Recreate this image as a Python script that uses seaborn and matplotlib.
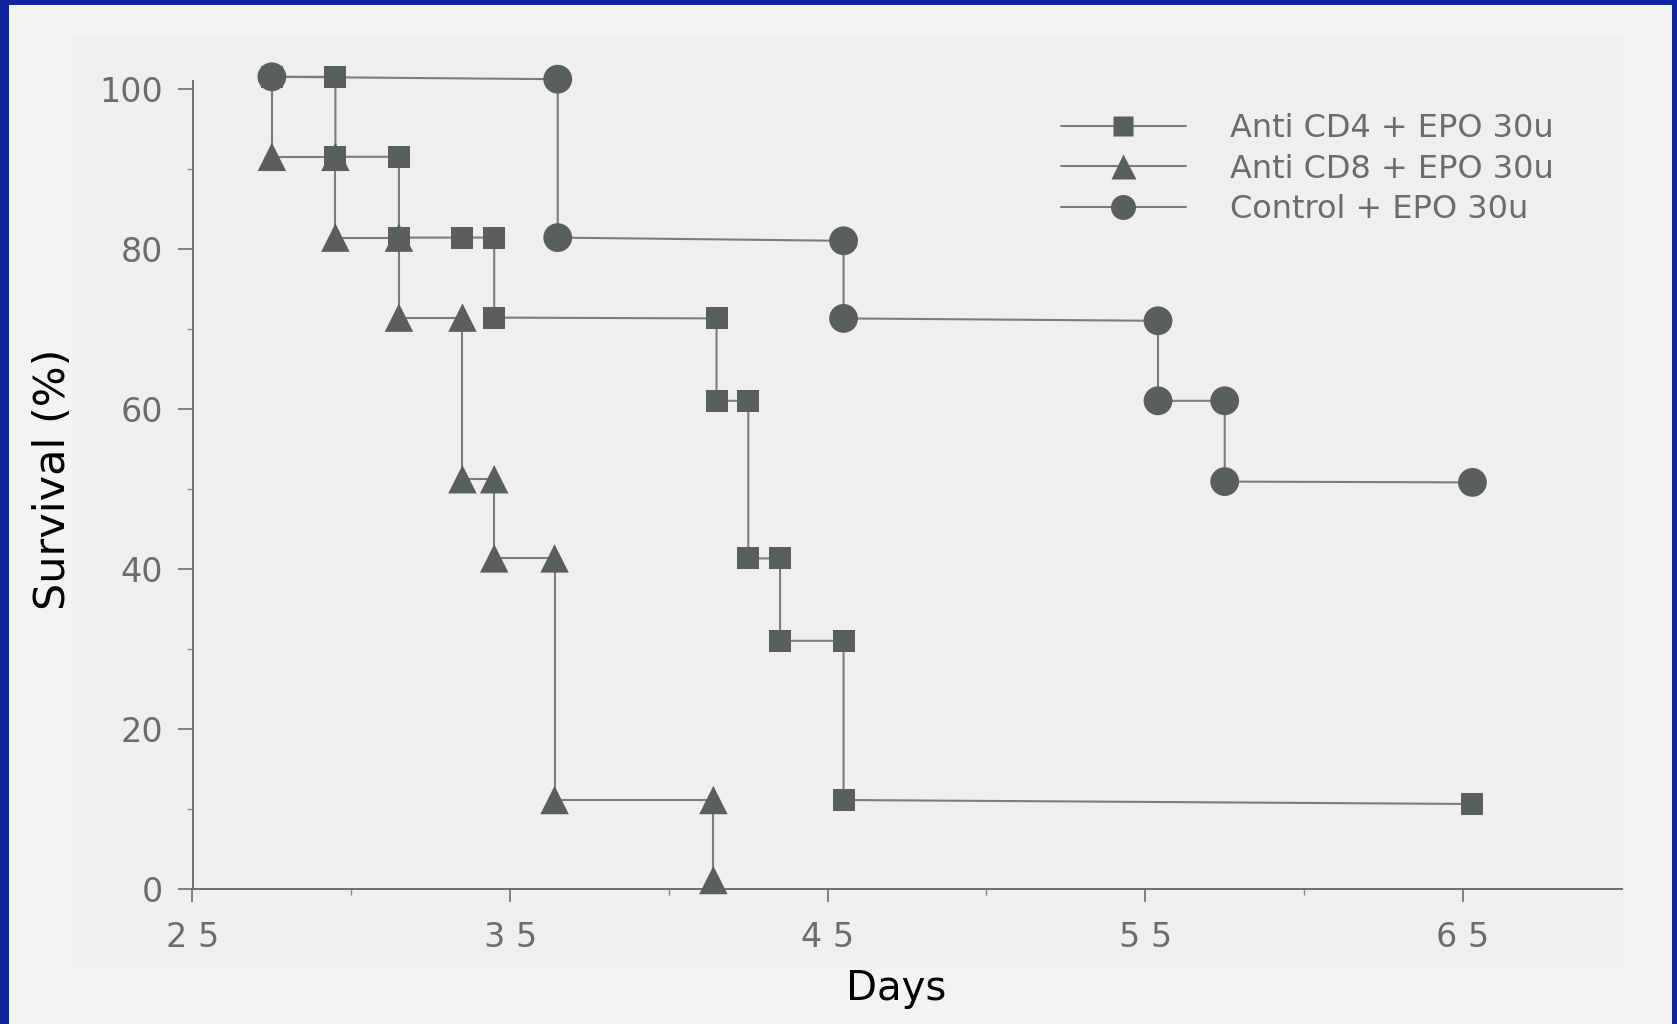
import numpy as np
import pandas as pd
import matplotlib
matplotlib.use("Agg")
import matplotlib.pyplot as plt
from matplotlib.patches import Rectangle
from matplotlib.lines import Line2D
import seaborn as sns

# ---- data ----
days_cd4 = [27.5, 29.5, 29.5, 31.5, 31.5, 33.5, 34.5, 34.5, 41.5, 41.5, 42.5, 42.5, 43.5, 43.5, 45.5, 45.5, 65.3]
surv_cd4 = [101.5, 101.5, 91.5, 91.5, 81.4, 81.4, 81.4, 71.4, 71.3, 61.0, 61.0, 41.3, 41.3, 31.0, 31.0, 11.1, 10.6]

days_cd8 = [27.5, 27.5, 29.5, 29.5, 31.5, 31.5, 33.5, 33.5, 34.5, 34.5, 36.4, 36.4, 41.4, 41.4]
surv_cd8 = [101.5, 91.5, 91.5, 81.4, 81.4, 71.4, 71.4, 51.2, 51.2, 41.3, 41.3, 11.1, 11.1, 1.1]
cd8_marked = [False, True, True, True, True, True, True, True, True, True, True, True, True, True]

days_ctrl = [27.5, 36.5, 36.5, 45.5, 45.5, 55.4, 55.4, 57.5, 57.5, 65.3]
surv_ctrl = [101.5, 101.2, 81.4, 81.0, 71.3, 71.0, 61.0, 61.0, 50.9, 50.8]

labels = ["Anti CD4 + EPO 30u", "Anti CD8 + EPO 30u", "Control + EPO 30u"]
x_ticks = [25, 35, 45, 55, 65]
x_ticklabels = ["2 5", "3 5", "4 5", "5 5", "6 5"]
y_ticks = [0, 20, 40, 60, 80, 100]
y_ticklabels = ["0", "20", "40", "60", "80", "100"]
x_label = "Days"
y_label = "Survival (%)"

# ---- style ----
sns.set_style("ticks")
plt.rcParams["font.family"] = ["DejaVu Sans"]

BLUE = "#0b239e"
LINE_C = "#7c7c7c"
MARK_C = "#5a5f5e"
TEXT_G = "#6c6c6c"

W, H = 1677, 1024
fig = plt.figure(figsize=(W / 100, H / 100), dpi=100)
fig.patch.set_facecolor(BLUE)
fig.add_artist(Rectangle((9 / W, 0), (W - 14) / W, (H - 5) / H, transform=fig.transFigure,
                         facecolor="#f3f3f3", edgecolor="none", zorder=0))
fig.add_artist(Rectangle((72 / W, (H - 967) / H), (1624 - 72) / W, (967 - 37) / H,
                         transform=fig.transFigure, facecolor="#efefef", edgecolor="none", zorder=0))

ax = fig.add_axes([192.5 / W, (H - 888.8) / H, 1429.2 / W, 808.0 / H])
ax.patch.set_alpha(0)

df_cd4 = pd.DataFrame({"day": days_cd4, "surv": surv_cd4, "group": labels[0], "mark": True})
df_cd8 = pd.DataFrame({"day": days_cd8, "surv": surv_cd8, "group": labels[1], "mark": cd8_marked})
df_ctrl = pd.DataFrame({"day": days_ctrl, "surv": surv_ctrl, "group": labels[2], "mark": True})

series = [(df_cd4, "s", 250), (df_cd8, "^", 420), (df_ctrl, "o", 430)]
for d, m, s in series:
    sns.lineplot(data=d, x="day", y="surv", sort=False, estimator=None, color=LINE_C,
                 lw=1.5, ax=ax, legend=False, clip_on=False, zorder=2)
for d, m, s in series:
    sns.scatterplot(data=d[d["mark"]], x="day", y="surv", marker=m, s=s, color=MARK_C,
                    edgecolor="none", linewidth=0, ax=ax, legend=False, clip_on=False, zorder=3)

ax.set_xlim(25, 70)
ax.set_ylim(0, 101)
ax.set_xticks(x_ticks)
ax.set_xticklabels(x_ticklabels)
ax.set_xticks([30, 40, 50, 60], minor=True)
ax.set_yticks(y_ticks)
ax.set_yticklabels(y_ticklabels)
ax.set_yticks([10, 30, 50, 70, 90], minor=True)

for side in ["top", "right"]:
    ax.spines[side].set_visible(False)
for side in ["left", "bottom"]:
    ax.spines[side].set_color("#6e6e6e")
    ax.spines[side].set_linewidth(1.4)

ax.tick_params(axis="y", which="major", length=11, width=1.2, color="#6e6e6e",
               labelsize=24, labelcolor=TEXT_G, pad=10)
ax.tick_params(axis="y", which="minor", length=4, width=1.0, color="#8a8a8a")
ax.tick_params(axis="x", which="major", length=9, width=1.2, color="#6e6e6e",
               labelsize=24, labelcolor=TEXT_G, pad=14)
ax.tick_params(axis="x", which="minor", length=4, width=1.0, color="#8a8a8a")

ax.set_xlabel("")
ax.set_ylabel("")
fig.text(896 / W, 1 - 989 / H, x_label, ha="center", va="center", fontsize=29, color="black")
fig.text(53 / W, 1 - 479 / H, y_label, ha="center", va="center", rotation=90,
         fontsize=31, color="black")

handles = [
    Line2D([], [], color=LINE_C, lw=1.5, marker="s", markersize=14, markerfacecolor=MARK_C,
           markeredgecolor="none"),
    Line2D([], [], color=LINE_C, lw=1.5, marker="^", markersize=18, markerfacecolor=MARK_C,
           markeredgecolor="none"),
    Line2D([], [], color=LINE_C, lw=1.5, marker="o", markersize=18, markerfacecolor=MARK_C,
           markeredgecolor="none"),
]
leg = ax.legend(handles, labels, loc="upper left", bbox_to_anchor=(1061 / W, 1 - 113 / H),
                bbox_transform=fig.transFigure, frameon=False, fontsize=23, borderpad=0,
                borderaxespad=0, handlelength=3.9, handletextpad=1.4, labelspacing=0.3)
for t in leg.get_texts():
    t.set_color(TEXT_G)

fig.savefig("out.png", dpi=100, facecolor=fig.get_facecolor())
